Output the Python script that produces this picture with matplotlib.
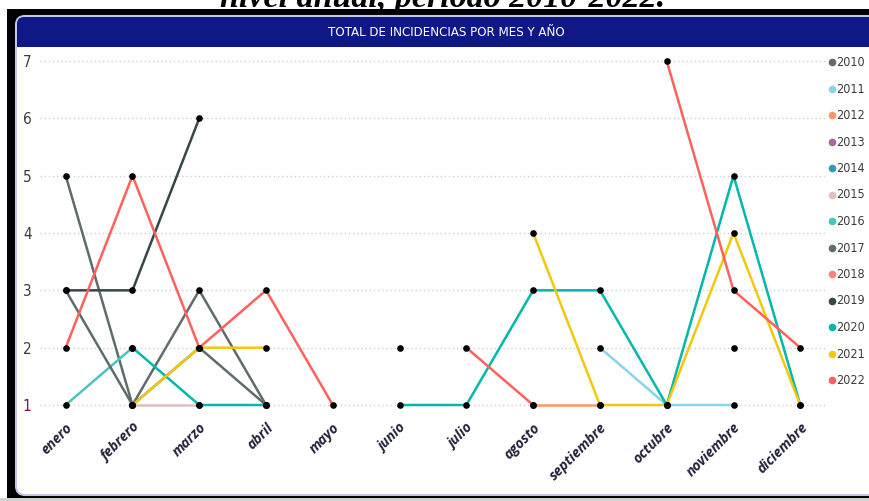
import matplotlib
matplotlib.use('Agg')
import matplotlib.pyplot as plt
from matplotlib.patches import Rectangle, FancyBboxPatch
import numpy as np

# ---------------- data ----------------
meses = ['enero', 'febrero', 'marzo', 'abril', 'mayo', 'junio', 'julio',
         'agosto', 'septiembre', 'octubre', 'noviembre', 'diciembre']
anios = ['2010', '2011', '2012', '2013', '2014', '2015', '2016',
         '2017', '2018', '2019', '2020', '2021', '2022']
n = None
v2010 = [5, 1, 3, 1, n, n, n, n, n, n, n, n]
v2011 = [n, n, n, n, n, n, n, n, 2, 1, 1, n]
v2012 = [n, n, n, n, n, n, n, 1, 1, n, n, n]
v2013 = [n, n, n, n, n, n, n, n, n, n, n, n]
v2014 = [n, n, n, n, n, 2, n, n, n, n, n, n]
v2015 = [n, 1, 1, n, n, n, n, n, n, n, n, n]
v2016 = [1, 2, n, n, n, n, n, n, n, n, n, n]
v2017 = [3, 1, 2, 1, n, n, n, n, n, n, n, n]
v2018 = [n, n, n, n, n, n, n, n, n, n, 2, n]
v2019 = [3, 3, 6, n, n, n, n, n, n, n, n, n]
v2020 = [n, 2, 1, 1, n, 1, 1, 3, 3, 1, 5, 1]
v2021 = [n, 1, 2, 2, n, n, n, 4, 1, 1, 4, 1]
v2022 = [2, 5, 2, 3, 1, n, 2, 1, n, 7, 3, 2]
valores = [v2010, v2011, v2012, v2013, v2014, v2015, v2016,
           v2017, v2018, v2019, v2020, v2021, v2022]
colores = ['#5F6B6D', '#8AD4EB', '#FE9666', '#A66999', '#3599B8', '#DFBFBF',
           '#4AC5BB', '#5F6B6D', '#FB8281', '#374649', '#01B8AA', '#F2C80F',
           '#FD625E']
titulo = 'TOTAL DE INCIDENCIAS POR MES Y AÑO'
titulo_sup = 'nivel anual, período 2010-2022.'

COND = dict(family=['DejaVu Sans'], fontstretch='condensed')

# ---------------- figure ----------------
W, H = 869, 501
fig = plt.figure(figsize=(W / 100, H / 100), dpi=100)
fig.patch.set_facecolor('white')

bg = fig.add_axes([0, 0, 1, 1], zorder=0)
bg.set_xlim(0, W)
bg.set_ylim(H, 0)
bg.axis('off')

# frame
bg.add_patch(Rectangle((7, 9), W - 7, 489, facecolor='black', edgecolor='none'))
bg.add_patch(Rectangle((0, 498), W, 3, facecolor='#d2d2d2', edgecolor='none'))
bg.add_patch(FancyBboxPatch((16, 16), W + 30 - 16, 495 - 16,
                            boxstyle='round,pad=0,rounding_size=9',
                            facecolor='white', edgecolor='#c3c6ee', lw=1.5))
bg.add_patch(FancyBboxPatch((17, 17), W + 30 - 17, 30,
                            boxstyle='round,pad=0,rounding_size=7',
                            facecolor='#0F1887', edgecolor='none'))
bg.add_patch(Rectangle((17, 32), W, 15, facecolor='#0F1887', edgecolor='none'))
bg.text(446, 32.5, titulo, color='white', ha='center', va='center',
        fontsize=9.5, **COND)
bg.text(443, 7, titulo_sup, ha='center', va='baseline', fontsize=24.5,
        fontweight='bold', style='italic', color='black',
        family=['Liberation Serif', 'DejaVu Serif'])

# legend
for i, (a, c) in enumerate(zip(anios, colores)):
    y = 62 + i * 26.5
    bg.plot(832, y, 'o', color=c, ms=5.5, mec='none')
    bg.text(836.5, y + 0.5, a, ha='left', va='center', fontsize=9,
            color='#3b3b3b', **COND)

# ---------------- main plot ----------------
px_left, px_right, px_top, px_bot = 40, 825, 52.4, 419
ax = fig.add_axes([px_left / W, 1 - px_bot / H, (px_right - px_left) / W,
                   (px_bot - px_top) / H], zorder=2)
ax.patch.set_alpha(0)

x0, dx = 65.7, 66.78
y1, dy = 405, 57.33
ax.set_xlim((px_left - x0) / dx, (px_right - x0) / dx)
ax.set_ylim(1 - (px_bot - y1) / dy, 1 + (y1 - px_top) / dy)

x = np.arange(len(meses))
for vals, c in zip(valores, colores):
    y = np.array([np.nan if v is None else v for v in vals], dtype=float)
    ax.plot(x, y, color=c, lw=1.8, solid_capstyle='round', zorder=2)
for vals in valores:
    y = np.array([np.nan if v is None else v for v in vals], dtype=float)
    ax.plot(x, y, 'o', color='black', ms=4.8, mec='none', zorder=3)

for s in ax.spines.values():
    s.set_visible(False)

ax.set_yticks(range(1, 8))
ax.grid(axis='y', color='#d0d0d0', linestyle=(0, (1, 2)), lw=1)
ax.set_axisbelow(True)
ax.tick_params(axis='y', length=0, pad=6, labelsize=11, labelcolor='#3b3b3b')
for lab in ax.get_yticklabels():
    lab.set_family('DejaVu Sans')
    lab.set_fontstretch('condensed')
ax.get_yticklabels()[0].set_color('#7a1a4a')

ax.set_xticks(x)
ax.set_xticklabels(meses, rotation=45, ha='right', va='top',
                   rotation_mode='anchor', fontsize=10, fontweight='bold',
                   style='italic', color='#22223a',
                   family=['Open Sans', 'DejaVu Sans'])
ax.tick_params(axis='x', length=0, pad=1)

fig.savefig('out.png', dpi=100)
